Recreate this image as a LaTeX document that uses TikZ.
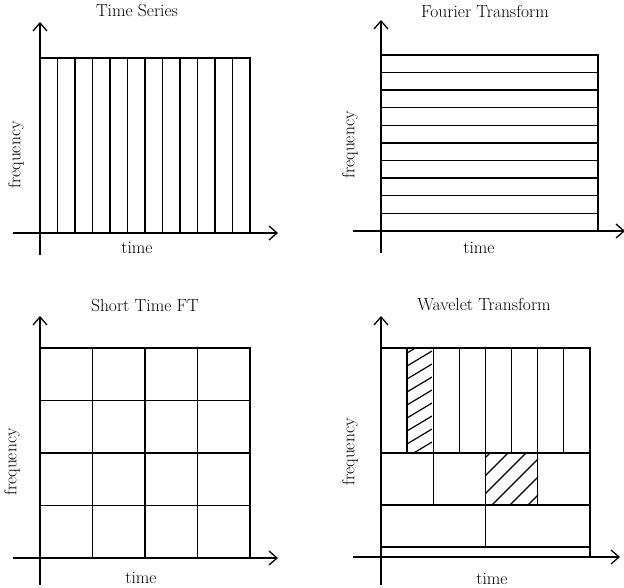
\documentclass[tikz,border=0pt]{standalone}
\usetikzlibrary{arrows.meta}
\begin{document}
\begin{tikzpicture}[x=1pt,y=-1pt,line width=1.4pt,
  ax/.style={->,>={Straight Barb[length=8pt,width=14pt]},line width=1.3pt},
  lbl/.style={font=\fontsize{17.5}{20}\selectfont,inner sep=0pt}]
\useasboundingbox (0,0) rectangle (624,588);
% Time series
\node[lbl] (t1) at (137,11) {Time Series};
\coordinate (a1) at (13,233); \coordinate (a1e) at (278,233);
\coordinate (b1) at (40,255); \coordinate (b1e) at (40,22);
\draw[ax] (a1) -- (a1e); \draw[ax] (b1) -- (b1e);
\draw (40,58) rectangle (250,233);
\foreach \i in {1,...,11} \draw (40+\i*17.5,58) -- (40+\i*17.5,233);
\node[lbl] (x1) at (137,248) {time};
\node[lbl,rotate=90] (y1) at (16,155) {frequency};
% Fourier
\node[lbl] (t2) at (485,11) {Fourier Transform};
\coordinate (a2) at (353,231); \coordinate (a2e) at (625,231);
\coordinate (b2) at (381,253); \coordinate (b2e) at (381,20);
\draw[ax] (a2) -- (a2e); \draw[ax] (b2) -- (b2e);
\draw (381,55) rectangle (598,231);
\foreach \i in {1,...,9} \draw (381,55+\i*17.6) -- (598,55+\i*17.6);
\node[lbl] (x2) at (479,248) {time};
\node[lbl,rotate=90] (y2) at (350,145) {frequency};
% STFT
\node[lbl] (t3) at (145,306) {Short Time FT};
\coordinate (a3) at (13,558); \coordinate (a3e) at (278,558);
\coordinate (b3) at (40,585); \coordinate (b3e) at (40,316);
\draw[ax] (a3) -- (a3e); \draw[ax] (b3) -- (b3e);
\draw (40,348) rectangle (250,558);
\foreach \i in {1,2,3} {\draw (40+\i*52.5,348) -- (40+\i*52.5,558);
  \draw (40,348+\i*52.5) -- (250,348+\i*52.5);}
\node[lbl] (x3) at (141,578) {time};
\node[lbl,rotate=90] (y3) at (12,462) {frequency};
% Wavelet
\node[lbl] (t4) at (484,304) {Wavelet Transform};
\coordinate (a4) at (353,557); \coordinate (a4e) at (620,557);
\coordinate (b4) at (381,585); \coordinate (b4e) at (381,316);
\draw[ax] (a4) -- (a4e); \draw[ax] (b4) -- (b4e);
\begin{scope}
\clip (407,348) rectangle (432,453);
\foreach \k in {0,...,12} \draw[line width=1.2pt] (407,340+\k*13) -- (432,325+\k*13);
\end{scope}
\begin{scope}
\clip (485,453) rectangle (538,505);
\foreach \k in {0,...,10} \draw[line width=1.2pt] (485,440+\k*18) -- (545,380+\k*18);
\end{scope}
\draw (381,348) rectangle (590,557);
\draw (381,453) -- (590,453); \draw (381,505) -- (590,505); \draw (381,547) -- (590,547);
\foreach \i in {1,...,7} \draw (381+\i*26.1,348) -- (381+\i*26.1,453);
\foreach \i in {1,2,3} \draw (381+\i*52.25,453) -- (381+\i*52.25,505);
\draw (485.5,505) -- (485.5,547);
\node[lbl] (x4) at (492,579) {time};
\node[lbl,rotate=90] (y4) at (350,452) {frequency};
\end{tikzpicture}
\end{document}
